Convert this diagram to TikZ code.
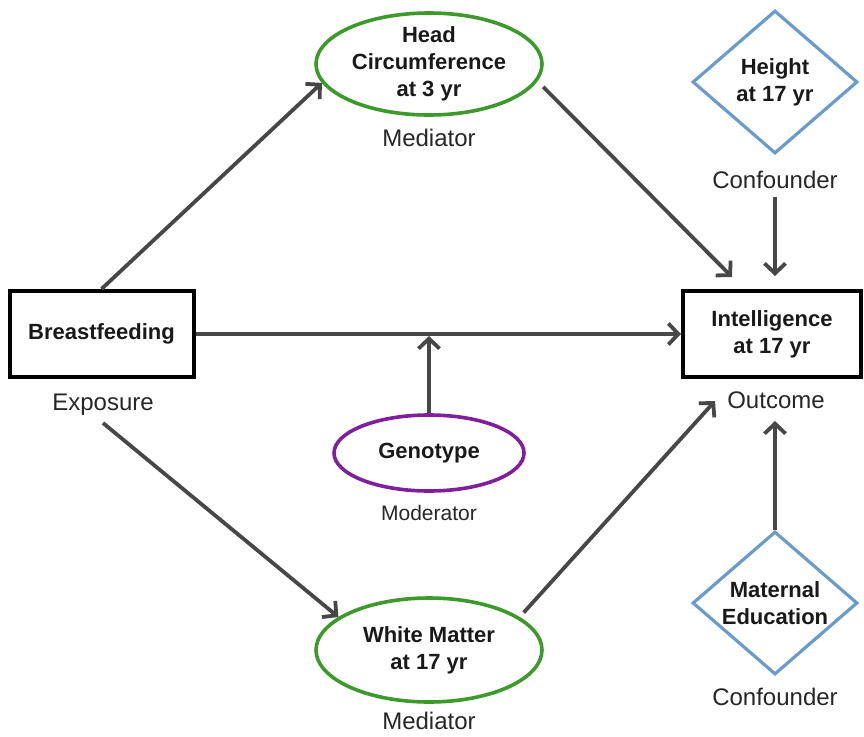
\documentclass[tikz,border=0pt]{standalone}
\usepackage{fontspec}
\setmainfont{Liberation Sans}
\usetikzlibrary{shapes.geometric,arrows.meta,calc}
\definecolor{medgreen}{HTML}{3C9A2A}
\definecolor{modpurple}{HTML}{7E1F9C}
\definecolor{confblue}{HTML}{6A9BCB}
\definecolor{arrowgray}{HTML}{474747}
\tikzset{
  boxnode/.style={draw=black, line width=4pt, rectangle, minimum width=184pt, minimum height=86pt, inner sep=0pt},
  ellnode/.style={ellipse, line width=3.6pt, inner sep=0pt},
  dianode/.style={diamond, draw=confblue, line width=3.2pt, inner sep=0pt, minimum width=165pt, minimum height=143pt},
  boldtxt/.style={font=\fontsize{22}{27}\selectfont\bfseries, align=center, text=black!90, inner sep=0pt},
  roletxt/.style={font=\fontsize{24}{28}\selectfont, text=black!85, inner sep=0pt},
  link/.style={draw=arrowgray, line width=3.8pt, -{Straight Barb[length=10pt,width=21pt]}},
}
\begin{document}
\begin{tikzpicture}[x=1pt, y=-1pt]
\useasboundingbox (0,0) rectangle (864,736);

% exposure and outcome boxes
\node[boxnode] (bf) at (101.5,334) {};
\node[boldtxt] (bftxt) at (bf) {Breastfeeding};
\node[roletxt] (expo) at (103,405) {Exposure};

\node[boxnode, minimum width=178pt] (intel) at (772,334) {};
\node[boldtxt] (inteltxt) at (intel) {Intelligence\\at 17 yr};
\node[roletxt] (outc) at (776,400) {Outcome};

% mediators
\node[ellnode, draw=medgreen, minimum width=226pt, minimum height=102pt] (head) at (429,64) {};
\node[boldtxt] (headtxt) at (head) {Head\\Circumference\\at 3 yr};
\node[roletxt] (med1) at (429,138) {Mediator};

\node[ellnode, draw=medgreen, minimum width=226pt, minimum height=104pt] (wm) at (429,650) {};
\node[boldtxt] (wmtxt) at (wm) {White Matter\\at 17 yr};
\node[roletxt] (med2) at (429,721) {Mediator};

% moderator
\node[ellnode, draw=modpurple, minimum width=190pt, minimum height=76pt] (geno) at (429,453) {};
\node[boldtxt] (genotxt) at (geno) {Genotype};
\node[roletxt, font=\fontsize{21}{25}\selectfont] (modlab) at (429,513) {Moderator};

% confounders
\node[dianode] (height) at (775,82) {};
\node[boldtxt] (heighttxt) at (height) {Height\\at 17 yr};
\node[roletxt] (conf1) at (775,180) {Confounder};

\node[dianode] (mat) at (775,603) {};
\node[boldtxt] (mattxt) at (mat) {Maternal\\Education};
\node[roletxt] (conf2) at (775,697) {Confounder};

% free arrow ends
\coordinate (hctip) at (732,277);
\coordinate (httip) at (775,276);
\coordinate (htstart) at (775,197);
\coordinate (modtip) at (geno.north |- bf.east);
\coordinate (expstart) at (103,423);
\coordinate (wmtip) at (715,401);
\coordinate (mattip) at (775,421);

% connectors
\draw[link] (bf.north) -- (head.190);
\draw[link, shorten <=8pt] (head.-9.5) -- (hctip);
\draw[link] (htstart) -- (httip);
\draw[link] (bf.east) -- (intel.west);
\draw[link, shorten >=2pt] (geno.north) -- (modtip);
\draw[link] (expstart) -- (wm.160);
\draw[link, shorten <=6pt] (wm.20) -- (wmtip);
\draw[link] (mat.north) -- (mattip);
\end{tikzpicture}
\end{document}
